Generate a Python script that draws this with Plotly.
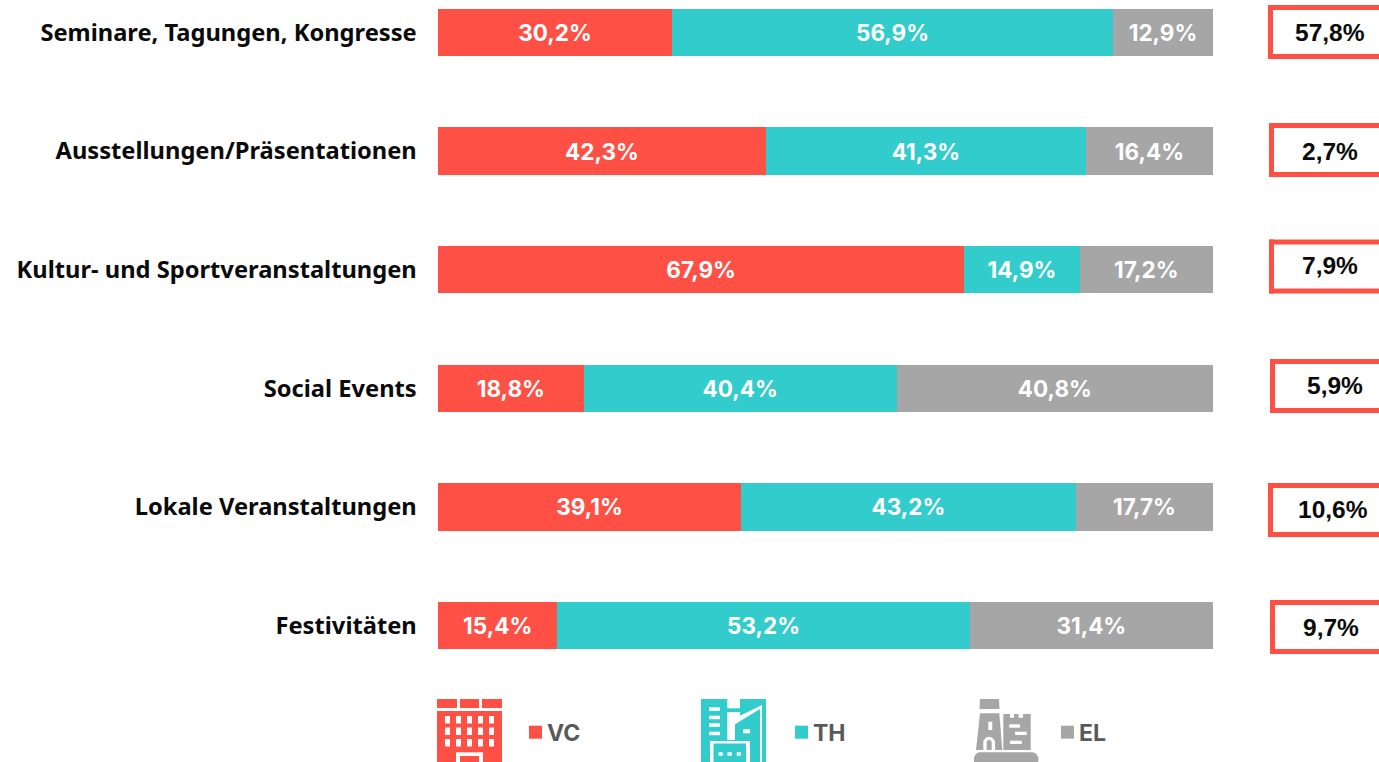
import plotly.graph_objects as go

W, H = 1379, 762
categories = ["Seminare, Tagungen, Kongresse", "Ausstellungen/Präsentationen",
              "Kultur- und Sportveranstaltungen", "Social Events",
              "Lokale Veranstaltungen", "Festivitäten"]
vc = [30.2, 42.3, 67.9, 18.8, 39.1, 15.4]
th = [56.9, 41.3, 14.9, 40.4, 43.2, 53.2]
el = [12.9, 16.4, 17.2, 40.8, 17.7, 31.4]
share = [57.8, 2.7, 7.9, 5.9, 10.6, 9.7]

RED, TEAL, GREY = "#FF5045", "#33CCCC", "#A6A6A6"
L, R = 438, 1213

def px(x): return (x - L) / (R - L)
def py(y): return 1 - y / H
def de(v): return f"{v:.1f}".replace(".", ",") + "%"

BAR_FONT = dict(family="Inter, 'Open Sans', sans-serif", size=22.5, color="white", weight=700)
fig = go.Figure()
for name, vals, col in [("VC", vc, RED), ("TH", th, TEAL), ("EL", el, GREY)]:
    fig.add_trace(go.Bar(y=categories, x=vals, name=name, orientation="h",
                         marker=dict(color=col, line=dict(width=0)),
                         text=[de(v) for v in vals], textposition="inside",
                         insidetextanchor="middle", textangle=0,
                         insidetextfont=BAR_FONT, cliponaxis=False, hoverinfo="skip"))

shapes, annos = [], []

def rect(x0, y0, x1, y1, c):
    shapes.append(dict(type="rect", xref="paper", yref="paper", x0=px(x0), x1=px(x1),
                       y0=py(y0), y1=py(y1), fillcolor=c, line=dict(width=0), layer="above"))

def poly(pts, c):
    d = "M" + "L".join(f"{px(x):.5f},{py(y):.5f}" for x, y in pts) + "Z"
    shapes.append(dict(type="path", xref="paper", yref="paper", path=d, fillcolor=c,
                       line=dict(width=0), layer="above"))

# right-hand share boxes
box_left = [1268, 1269, 1269, 1270, 1268, 1270]
box_top = [5, 123, 239.5, 359, 483, 600]
box_h = 54
text_cy = [32, 151, 265, 386, 509, 627]
text_cx = [1329.5, 1330, 1330, 1335, 1332.5, 1330.5]
for i, s in enumerate(share):
    lft, top = box_left[i], box_top[i]
    rect(lft, top, 1385, top + 5, RED)
    rect(lft, top + box_h - 5, 1385, top + box_h, RED)
    rect(lft, top, lft + 5, top + box_h, RED)
    annos.append(dict(xref="paper", yref="paper", x=px(text_cx[i]), y=py(text_cy[i]),
                      text=f"<b>{de(s)}</b>", showarrow=False, xanchor="center", yanchor="middle",
                      font=dict(family="Liberation Sans, Arial, sans-serif", size=24.5, color="#0A0A0A")))

# legend squares and labels
for x, label, col in [(529, "VC", RED), (795, "TH", TEAL), (1061, "EL", GREY)]:
    rect(x, 725.7, x + 13, 738.7, col)
    annos.append(dict(xref="paper", yref="paper", x=px(x + 16), y=py(732.5), text=f"<b>{label}</b>",
                      showarrow=False, xanchor="left", yanchor="middle",
                      font=dict(family="Inter, sans-serif", size=23, color="#595959")))

# VC icon: office building
rect(437, 699, 457, 708, RED)
rect(460, 699, 479, 708, RED)
rect(482, 699, 502, 708, RED)
rect(437, 711, 502, 762, RED)
for row in (716, 727.5, 739):
    for col in (445, 456, 467, 478, 489):
        rect(col, row, col + 5, row + 7.5, "white")
rect(456, 752.3, 483, 762, "white")
rect(460, 756, 479, 762, RED)

# TH icon: hotel towers
rect(701, 699, 766, 762, TEAL)
rect(727.3, 699, 740, 708.3, "white")
poly([(727.3, 712), (740, 712), (740, 715.7), (762, 705), (762, 762), (760, 762),
      (760, 709), (735, 724.3), (735, 740), (727.3, 740)], "white")
for y in (707.3, 715.7, 723.3, 731.7):
    rect(709, y, 720, y + 3.5, "white")
rect(743, 729.3, 750, 733.3, "white")
rect(710, 741, 750, 762, "white")
rect(713.5, 743.5, 746, 762, TEAL)
for x in (718.5, 727.5, 736.7):
    rect(x, 752.3, x + 4.3, 755.7, "white")

# EL icon: castle
poly([(980, 699), (999, 699), (999.5, 709), (979.5, 709)], GREY)
poly([(980, 713.3), (999.3, 713.3), (1002.3, 750), (976, 750)], GREY)
poly([(1003.3, 714), (1010, 714), (1010, 717.7), (1014, 717.7), (1014, 714), (1018.5, 714),
      (1018.5, 717.7), (1023, 717.7), (1023, 714), (1030.7, 714), (1030.7, 750), (1003.3, 750)], GREY)
rect(988.3, 721.7, 992.3, 730, "white")
poly([(983.3, 750), (983.3, 741), (986, 737.5), (989, 736.7), (992, 737.5), (995, 741), (995, 750),
      (991.7, 750), (991.7, 742), (990, 740), (988, 740), (986.7, 742), (986.7, 750)], "white")
rect(1009.3, 724.3, 1020, 727.7, "white")
rect(1015, 731.7, 1026.7, 735, "white")
rect(1010, 740.7, 1021.7, 744, "white")
poly([(979, 752.3), (1033, 752.3), (1036.5, 754), (1038.3, 757.5), (1038.3, 763),
      (974, 763), (974, 757.5), (975.8, 754)], GREY)

pitch = 118.6
fig.update_layout(
    width=W, height=H, autosize=False,
    barmode="stack", bargap=1 - 47.5 / pitch,
    paper_bgcolor="white", plot_bgcolor="white", showlegend=False,
    margin=dict(l=L, r=W - R, t=0, b=0, pad=0),
    xaxis=dict(range=[0, 100.001], visible=False, fixedrange=True),
    yaxis=dict(range=[(H - 32.5) / pitch, -32.5 / pitch], type="category", fixedrange=True,
               showgrid=False, showline=False, zeroline=False,
               ticks="outside", ticklen=15.5, tickcolor="rgba(0,0,0,0)",
               tickfont=dict(family="Noto Sans, sans-serif", size=23.7, color="#0A0A0A", weight=700)),
    shapes=shapes, annotations=annos,
)
fig.write_html("out.html", config=dict(displayModeBar=False),
               post_script="document.body.style.margin='0';document.body.style.overflow='hidden';")
